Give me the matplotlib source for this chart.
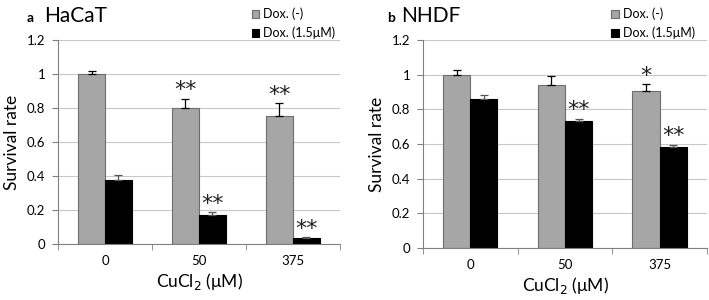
import matplotlib
matplotlib.use('Agg')
import matplotlib.pyplot as plt
import numpy as np

plt.rcParams['font.family'] = ['Lato', 'DejaVu Sans']

categorias = ['0', '50', '375']

# painel a - HaCaT
hacat_sem = [1.00, 0.80, 0.75]
hacat_sem_err = [0.02, 0.055, 0.08]
hacat_dox = [0.375, 0.17, 0.035]
hacat_dox_err = [0.028, 0.017, 0.005]
hacat_sig_sem = ['', '**', '**']
hacat_sig_dox = ['', '**', '**']

# painel b - NHDF
nhdf_sem = [1.00, 0.94, 0.905]
nhdf_sem_err = [0.025, 0.055, 0.04]
nhdf_dox = [0.858, 0.733, 0.585]
nhdf_dox_err = [0.024, 0.014, 0.012]
nhdf_sig_sem = ['', '', '*']
nhdf_sig_dox = ['', '**', '**']

legenda = ['Dox. (-)', 'Dox. (1.5μM)']
cinza = '#a6a6a6'

fig = plt.figure(figsize=(7.09, 3.0), dpi=100)
eixos = [fig.add_axes([0.0818, 0.1867, 0.3977, 0.68]),
         fig.add_axes([0.5966, 0.1733, 0.4005, 0.6933])]

paineis = [
    ('a', 'HaCaT', hacat_sem, hacat_sem_err, hacat_dox, hacat_dox_err, hacat_sig_sem, hacat_sig_dox),
    ('b', 'NHDF', nhdf_sem, nhdf_sem_err, nhdf_dox, nhdf_dox_err, nhdf_sig_sem, nhdf_sig_dox),
]

largura = 0.287
x = np.arange(len(categorias))

for k, (eixo, (letra, nome, sem, sem_err, dox, dox_err, sig_sem, sig_dox)) in enumerate(zip(eixos, paineis)):
    eixo.set_axisbelow(True)
    eixo.grid(axis='y', color='#c8c8c8', linewidth=0.8)
    b1 = eixo.bar(x - largura / 2, sem, largura, color=cinza, edgecolor='#6e6e6e', linewidth=0.8,
                  yerr=[np.zeros(3), sem_err], capsize=3, error_kw=dict(elinewidth=0.9, capthick=0.9, ecolor='black'),
                  label=legenda[0])
    b2 = eixo.bar(x + largura / 2, dox, largura, color='black', edgecolor='black', linewidth=0.8,
                  yerr=[np.zeros(3), dox_err], capsize=3, error_kw=dict(elinewidth=0.9, capthick=0.9, ecolor='#555555'),
                  label=legenda[1])
    for i in range(3):
        if sig_sem[i]:
            eixo.text(x[i] - largura / 2, sem[i] + sem_err[i] - 0.01, sig_sem[i], ha='center', va='bottom',
                      fontsize=16, family='DejaVu Sans', color='#222222')
        if sig_dox[i]:
            eixo.text(x[i] + largura / 2, dox[i] + dox_err[i] - 0.01, sig_dox[i], ha='center', va='bottom',
                      fontsize=16, family='DejaVu Sans', color='#222222')

    eixo.set_xlim(-0.5, 2.5)
    eixo.set_ylim(0, 1.2)
    eixo.set_yticks([0, 0.2, 0.4, 0.6, 0.8, 1.0, 1.2])
    eixo.set_yticklabels(['0', '0.2', '0.4', '0.6', '0.8', '1', '1.2'])
    eixo.set_xticks(x)
    eixo.set_xticklabels(categorias)
    eixo.set_xticks([-0.5, 0.5, 1.5, 2.5], minor=True)
    eixo.tick_params(axis='x', which='major', length=0, pad=8, labelsize=9.5)
    eixo.tick_params(axis='x', which='minor', length=4, color='#808080')
    eixo.tick_params(axis='y', length=4, color='#808080', labelsize=9.5, pad=5)
    for lado in ['top', 'right']:
        eixo.spines[lado].set_visible(False)
    eixo.spines['left'].set_color('#808080')
    eixo.spines['bottom'].set_color('#808080')
    eixo.set_ylabel('Survival rate', fontsize=12.5, labelpad=5)
    eixo.set_xlabel('CuCl$_2$ (μM)', fontsize=12.5, labelpad=3)

    ancora = (1.0, 0.98) if k == 0 else (0.975, 0.98)
    leg = eixo.legend(handles=[b1, b2], loc='lower right', bbox_to_anchor=ancora, frameon=False,
                      fontsize=9, handlelength=0.6, handleheight=0.6, handletextpad=0.3, labelspacing=0.5,
                      borderaxespad=0)

fig.text(0.038, 0.925, 'a', fontsize=10, fontweight='bold', va='baseline')
fig.text(0.062, 0.925, 'HaCaT', fontsize=15, va='baseline')
fig.text(0.546, 0.925, 'b', fontsize=10, fontweight='bold', va='baseline')
fig.text(0.566, 0.925, 'NHDF', fontsize=15, va='baseline')

fig.savefig('out.png', dpi=100)
